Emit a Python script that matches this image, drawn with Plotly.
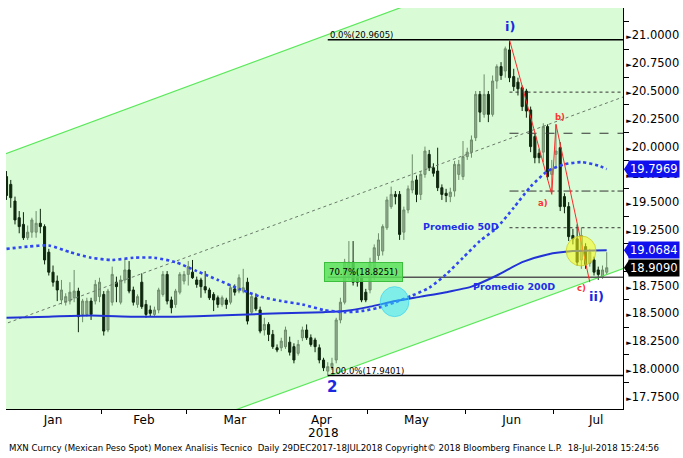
import pandas as pd
import plotly.graph_objects as go

# ---------------- data ----------------
dates = [d.strftime("%Y-%m-%d") for d in pd.bdate_range("2017-12-29", "2018-07-18")
         if d.strftime("%m-%d") != "01-01"]

opens = [19.73, 19.66, 19.51, 19.36, 19.30, 19.18, 19.23, 19.23, 19.31, 19.28,
         19.05, 18.87, 18.79, 18.62, 18.60, 18.61, 18.64, 18.70, 18.49, 18.49,
         18.61, 18.61, 18.65, 18.67, 18.35, 18.60, 18.78, 18.60, 18.80, 18.89,
         18.71, 18.58, 18.78, 18.58, 18.53, 18.49, 18.53, 18.67, 18.85, 18.62,
         18.58, 18.69, 18.79, 18.85, 18.87, 18.80, 18.80, 18.74, 18.71, 18.67,
         18.64, 18.58, 18.62, 18.60, 18.72, 18.70, 18.70, 18.78, 18.51, 18.64,
         18.53, 18.35, 18.40, 18.31, 18.19, 18.19, 18.20, 18.24, 18.20, 18.14,
         18.28, 18.35, 18.28, 18.26, 18.19, 18.08, 17.98, 18.02, 18.08, 18.44,
         18.60, 18.83, 18.96, 18.83, 18.83, 18.69, 18.71, 18.83, 19.02, 19.06,
         19.27, 19.46, 19.57, 19.57, 19.23, 19.43, 19.61, 19.70, 19.57, 19.75,
         19.93, 19.81, 19.78, 19.63, 19.58, 19.55, 19.60, 19.75, 19.73, 19.91,
         19.95, 20.08, 20.47, 20.29, 20.47, 20.29, 20.59, 20.72, 20.68, 20.87,
         20.63, 20.58, 20.53, 20.50, 20.33, 20.09, 19.94, 19.95, 20.18, 19.75,
         19.93, 19.99, 19.55, 19.46, 19.20, 19.17, 18.98, 19.10, 18.95, 18.98,
         18.89, 18.83, 18.87]
highs = [19.78, 19.70, 19.55, 19.42, 19.41, 19.29, 19.36, 19.42, 19.44, 19.30,
         19.08, 18.93, 18.84, 18.80, 18.68, 18.78, 18.89, 18.73, 18.63, 18.64,
         18.64, 18.80, 18.82, 18.70, 18.72, 18.92, 18.83, 18.84, 18.99, 18.97,
         18.74, 18.67, 18.86, 18.62, 18.57, 18.56, 18.73, 18.88, 18.88, 18.65,
         18.72, 18.87, 18.88, 18.97, 18.98, 18.83, 18.82, 18.88, 18.73, 18.69,
         18.66, 18.66, 18.64, 18.76, 18.76, 18.85, 18.90, 18.82, 18.68, 18.68,
         18.56, 18.46, 18.42, 18.35, 18.22, 18.28, 18.38, 18.29, 18.23, 18.26,
         18.38, 18.40, 18.31, 18.28, 18.22, 18.10, 18.06, 18.10, 18.46, 18.64,
         18.99, 19.15, 19.15, 18.90, 18.86, 18.72, 19.00, 19.12, 19.22, 19.30,
         19.55, 19.64, 19.60, 19.60, 19.46, 19.65, 19.93, 19.74, 19.78, 20.00,
         19.97, 19.85, 19.99, 19.66, 19.62, 19.63, 19.87, 19.88, 20.05, 19.99,
         20.10, 20.50, 20.50, 20.65, 20.50, 20.64, 20.74, 20.76, 20.90, 20.96,
         20.70, 20.62, 20.55, 20.52, 20.36, 20.12, 19.98, 20.21, 20.20, 19.88,
         20.20, 20.04, 19.58, 19.50, 19.26, 19.30, 19.27, 19.13, 19.08, 19.01,
         18.92, 18.93, 19.05]
lows = [19.52, 19.45, 19.30, 19.22, 19.16, 19.16, 19.18, 19.18, 19.22, 18.94,
        18.84, 18.74, 18.61, 18.58, 18.57, 18.58, 18.60, 18.33, 18.42, 18.47,
        18.44, 18.58, 18.60, 18.30, 18.33, 18.57, 18.60, 18.58, 18.77, 18.68,
        18.57, 18.55, 18.54, 18.46, 18.47, 18.47, 18.50, 18.65, 18.58, 18.50,
        18.55, 18.67, 18.76, 18.75, 18.81, 18.73, 18.64, 18.68, 18.62, 18.52,
        18.55, 18.56, 18.54, 18.58, 18.66, 18.68, 18.68, 18.40, 18.49, 18.52,
        18.32, 18.30, 18.25, 18.18, 18.15, 18.16, 18.18, 18.12, 18.05, 18.12,
        18.25, 18.26, 18.20, 18.15, 18.05, 17.98, 17.94, 17.99, 18.05, 18.41,
        18.58, 18.80, 18.75, 18.74, 18.60, 18.60, 18.68, 18.80, 18.98, 19.02,
        19.25, 19.44, 19.48, 19.16, 19.16, 19.40, 19.58, 19.50, 19.52, 19.72,
        19.78, 19.73, 19.60, 19.52, 19.50, 19.50, 19.55, 19.70, 19.70, 19.88,
        19.90, 20.05, 20.22, 20.26, 20.22, 20.27, 20.52, 20.60, 20.62, 20.58,
        20.50, 20.46, 20.32, 20.26, 19.95, 19.85, 19.85, 19.86, 19.70, 19.58,
        19.80, 19.42, 19.40, 19.15, 19.12, 18.93, 18.90, 18.90, 18.92, 18.84,
        18.80, 18.81, 18.85]
closes = [19.56, 19.54, 19.34, 19.28, 19.18, 19.23, 19.34, 19.31, 19.28, 18.98,
          18.87, 18.78, 18.71, 18.71, 18.65, 18.69, 18.70, 18.47, 18.61, 18.61,
          18.49, 18.76, 18.78, 18.34, 18.70, 18.85, 18.74, 18.80, 18.89, 18.70,
          18.60, 18.65, 18.56, 18.49, 18.50, 18.53, 18.71, 18.85, 18.61, 18.55,
          18.70, 18.85, 18.85, 18.92, 18.82, 18.76, 18.74, 18.71, 18.64, 18.62,
          18.58, 18.64, 18.58, 18.73, 18.69, 18.82, 18.73, 18.43, 18.65, 18.54,
          18.34, 18.40, 18.31, 18.20, 18.17, 18.25, 18.35, 18.15, 18.08, 18.22,
          18.35, 18.28, 18.22, 18.20, 18.08, 18.01, 18.02, 18.05, 18.44, 18.60,
          18.96, 18.96, 18.78, 18.78, 18.62, 18.62, 18.96, 19.09, 19.16, 19.28,
          19.52, 19.57, 19.55, 19.21, 19.43, 19.62, 19.69, 19.57, 19.75, 19.96,
          19.81, 19.76, 19.63, 19.57, 19.56, 19.59, 19.84, 19.84, 19.91, 19.95,
          20.06, 20.47, 20.31, 20.47, 20.29, 20.59, 20.72, 20.64, 20.88, 20.62,
          20.54, 20.52, 20.36, 20.32, 20.00, 19.90, 19.90, 20.18, 19.73, 19.80,
          19.96, 19.46, 19.46, 19.19, 19.17, 18.96, 19.20, 18.94, 19.05, 18.87,
          18.85, 18.89, 18.91]

ma50_dates = ["2017-12-29", "2018-01-08", "2018-01-15", "2018-01-22", "2018-01-29",
              "2018-02-05", "2018-02-12", "2018-02-19", "2018-02-26", "2018-03-05",
              "2018-03-12", "2018-03-19", "2018-03-26", "2018-04-02", "2018-04-09",
              "2018-04-16", "2018-04-23", "2018-04-27", "2018-05-03", "2018-05-09",
              "2018-05-15", "2018-05-21", "2018-05-25", "2018-05-31", "2018-06-06",
              "2018-06-12", "2018-06-18", "2018-06-22", "2018-06-28", "2018-07-04",
              "2018-07-10", "2018-07-16", "2018-07-18"]
ma50_values = [19.08, 19.10, 19.11, 19.05, 19.00, 18.98, 19.00, 19.00, 18.96, 18.88,
               18.80, 18.72, 18.65, 18.61, 18.58, 18.53, 18.51, 18.52, 18.55, 18.60,
               18.66, 18.73, 18.85, 19.00, 19.15, 19.27, 19.45, 19.64, 19.78, 19.84,
               19.86, 19.83, 19.7969]

ma200_dates = ["2017-12-29", "2018-01-15", "2018-01-29", "2018-02-12", "2018-02-26",
               "2018-03-12", "2018-03-21", "2018-04-02", "2018-04-16", "2018-04-23",
               "2018-05-01", "2018-05-09", "2018-05-17", "2018-05-25", "2018-06-04",
               "2018-06-12", "2018-06-20", "2018-06-28", "2018-07-06", "2018-07-18"]
ma200_values = [18.46, 18.47, 18.48, 18.47, 18.47, 18.48, 18.49, 18.50, 18.51, 18.52,
                18.56, 18.61, 18.65, 18.69, 18.74, 18.84, 18.96, 19.03, 19.06, 19.0684]

channel_dates = ["2017-12-28", "2018-07-25"]
channel_upper = [19.925, 22.006]
channel_mid = [18.396, 20.462]
channel_lower = [16.867, 18.917]

fib_start, fib_end = "2018-04-17", "2018-07-25"
fib_top, fib_bottom, fib_707 = 20.9605, 17.9401, 18.8251
level_start = "2018-06-15"
levels = [20.49, 20.12, 19.60, 19.27]
level_dash = ["dot", "dash", "dashdot", "dot"]

abc_dates = ["2018-06-15", "2018-06-29", "2018-07-02", "2018-07-12"]
abc_values = [20.9605, 19.57, 20.20, 18.78]

last_labels = [("19.7969", "#1010ee"), ("19.0684", "#1010ee"), ("18.9090", "#000000")]

ytick_vals = [17.75 + 0.25 * i for i in range(14)]
hidden_ytick = [19.0]   # fully covered by the last-value boxes in the original
ytick_text = ['' if v in hidden_ytick else '<span style="font-size:7px">►</span>%.4f' % v
              for v in ytick_vals]

FONT = "DejaVu Sans"


def noon(d):
    return (pd.Timestamp(d) + pd.Timedelta(hours=12)).strftime("%Y-%m-%d %H:%M")


def pth(d):
    return pd.Timestamp(d).strftime("%Y-%m-%d_%H:%M:%S")


xs = [noon(d) for d in dates]

fig = go.Figure()

# channel lines
for vals in (channel_upper, channel_lower):
    fig.add_trace(go.Scatter(x=[noon(d) for d in channel_dates], y=vals, mode="lines",
                             line=dict(color="#5be85b", width=1.2), hoverinfo="skip",
                             showlegend=False))
fig.add_trace(go.Scatter(x=[noon(d) for d in channel_dates], y=channel_mid, mode="lines",
                         line=dict(color="#6a7a6a", width=1, dash="dot"),
                         hoverinfo="skip", showlegend=False))

# candles
fig.add_trace(go.Candlestick(
    x=xs, open=opens, high=highs, low=lows, close=closes,
    increasing=dict(fillcolor="#8fab8c", line=dict(color="#6e8d6b", width=1)),
    decreasing=dict(fillcolor="#0e270e", line=dict(color="#0e270e", width=1)),
    showlegend=False))

# horizontal levels
for lv, ds in zip(levels, level_dash):
    fig.add_trace(go.Scatter(x=[noon(level_start), noon(fib_end)], y=[lv, lv], mode="lines",
                             line=dict(color="#333333", width=1, dash=ds),
                             hoverinfo="skip", showlegend=False))
for lv, col, w in [(fib_top, "#000000", 1.5), (fib_bottom, "#000000", 1.5), (fib_707, "#555555", 1.5)]:
    fig.add_trace(go.Scatter(x=[noon(fib_start), noon(fib_end)], y=[lv, lv], mode="lines",
                             line=dict(color=col, width=w), hoverinfo="skip", showlegend=False))

# moving averages
fig.add_trace(go.Scatter(x=[noon(d) for d in ma200_dates], y=ma200_values, mode="lines",
                         line=dict(color="#2233d6", width=2, shape="spline", smoothing=0.6),
                         hoverinfo="skip", showlegend=False))
fig.add_trace(go.Scatter(x=[noon(d) for d in ma50_dates], y=ma50_values, mode="lines",
                         line=dict(color="#3046f2", width=2.6, dash="dot", shape="spline",
                                   smoothing=0.6),
                         hoverinfo="skip", showlegend=False))

# abc wave
fig.add_trace(go.Scatter(x=[noon(d) for d in abc_dates], y=abc_values, mode="lines",
                         line=dict(color="#ff2a2a", width=1), hoverinfo="skip",
                         showlegend=False))

shapes = []
c0, c1 = channel_dates
shapes.append(dict(type="path", xref="x", yref="y", layer="below",
                   path="M %s,%f L %s,%f L %s,%f L %s,%f Z" % (
                       pth(noon(c0)), channel_lower[0], pth(noon(c1)), channel_lower[1],
                       pth(noon(c1)), channel_upper[1], pth(noon(c0)), channel_upper[0]),
                   fillcolor="#d9fbd6", line=dict(width=0)))
shapes.append(dict(type="circle", xref="x", yref="y", x0="2018-05-03 22:00", x1="2018-05-14 17:00",
                   y0=18.47, y1=18.74, fillcolor="rgba(40,225,250,0.5)",
                   line=dict(color="rgba(60,210,240,0.7)", width=1)))
shapes.append(dict(type="circle", xref="x", yref="y", x0="2018-07-04 22:00", x1="2018-07-13 23:00",
                   y0=18.926, y1=19.196, fillcolor="rgba(250,250,20,0.55)",
                   line=dict(color="rgba(200,200,30,0.7)", width=1)))
for t, col in last_labels:
    v = float(t)
    shapes.append(dict(type="path", xref="paper", yref="y",
                       path="M 1.0015,%f L 1.0100,%f L 1.0100,%f Z" % (v, v + 0.072, v - 0.072),
                       fillcolor=col, line=dict(width=0)))

ann = []


def txt(x, y, t, size, color, bold=False, xanchor="center", yanchor="middle", **kw):
    if bold:
        t = "<b>%s</b>" % t
    d = dict(x=x, y=y, xref="x", yref="y", text=t, showarrow=False,
             font=dict(family=FONT, size=size, color=color), xanchor=xanchor, yanchor=yanchor)
    d.update(kw)
    ann.append(d)


txt(noon(fib_start), fib_top, "0.0%(20.9605)", 8.5, "#000", xanchor="left", yanchor="bottom", yshift=-2)
txt(noon(fib_start), fib_bottom, "100.0%(17.9401)", 8.5, "#000", xanchor="left", yanchor="bottom", yshift=-2)
txt(noon(fib_start), fib_707, "70.7%(18.8251)", 8.5, "#000", xanchor="left", yanchor="middle",
    yshift=5, xshift=-4, bgcolor="rgba(90,225,90,0.85)", bordercolor="#3cbf3c", borderwidth=1, borderpad=4)
txt("2018-05-31 00:00", 19.28, "Promedio 50D", 9.5, "#1f2fe6", bold=True)
txt("2018-06-18 12:00", 18.74, "Promedio 200D", 9.5, "#1f2fe6", bold=True)
txt("2018-06-15 12:00", 21.078, "i)", 13, "#1a28e0", bold=True)
txt("2018-07-13 12:00", 18.655, "ii)", 13, "#1a28e0", bold=True, xshift=2)
txt("2018-04-18 12:00", 17.835, "2", 15, "#1a28e0", bold=True)
txt("2018-06-27 12:00", 19.49, "a)", 8.5, "#ff3333", bold=True)
txt("2018-07-03 12:00", 20.27, "b)", 8.5, "#ff3333", bold=True)
txt("2018-07-11 12:00", 18.725, "c)", 8.5, "#ff3333", bold=True, xshift=-4)

for t, col in last_labels:
    ann.append(dict(x=1, y=float(t), xref="paper", yref="y", xanchor="left", yanchor="middle",
                    xshift=5, text=t, showarrow=False, bgcolor=col, borderpad=1,
                    font=dict(family=FONT, size=11.5, color="#ffffff")))

ann.append(dict(x="2018-04-16 12:00", y=0, xref="x", yref="paper", yshift=-24, yanchor="middle",
                text="2018", showarrow=False, font=dict(family=FONT, size=12, color="#000")))
ann.append(dict(x=0, y=0, xref="paper", yref="paper", xanchor="left", yanchor="middle", xshift=1,
                yshift=-39, showarrow=False,
                text="MXN Curncy (Mexican Peso Spot) Monex Analisis Tecnico\u00a0\u00a0Daily 29DEC2017-18JUL2018 "
                     "Copyright\u00a9 2018 Bloomberg Finance L.P.\u00a0\u00a018-Jul-2018 15:24:56",
                font=dict(family=FONT, size=8.6, color="#000")))

fig.update_layout(
    width=683, height=458,
    margin=dict(l=6, r=60, t=8, b=49, autoexpand=False),
    paper_bgcolor="white", plot_bgcolor="white",
    shapes=shapes, annotations=ann,
    showlegend=False,
    xaxis=dict(type="date", range=["2017-12-29 09:00", "2018-07-24 08:30"],
               rangebreaks=[dict(bounds=["sat", "mon"]), dict(values=["2018-01-01"])],
               rangeslider=dict(visible=False), automargin=False,
               dtick="M1", tick0="2018-01-01", tickformat="%b", ticklabelmode="period",
               ticks="outside", ticklen=4, tickcolor="#000", showgrid=False, zeroline=False,
               showline=True, linecolor="#000", linewidth=1, ticklabelstandoff=-4,
               tickfont=dict(family=FONT, size=12, color="#000")),
    yaxis=dict(side="right", range=[17.639, 21.247], tickvals=ytick_vals, ticktext=ytick_text,
               ticks="", showgrid=False, zeroline=False, showline=True, linecolor="#000",
               linewidth=1, automargin=False, tickfont=dict(family=FONT, size=11.5, color="#000"),
               minor=dict(tick0=17.625, dtick=0.25, ticks="outside", ticklen=5, tickcolor="#000",
                          showgrid=False)),
)

fig.write_html("out.html", config={"displayModeBar": False},
               post_script="document.body.style.margin='0';"
                           "document.body.style.overflow='hidden';"
                           "document.documentElement.style.overflow='hidden';")
